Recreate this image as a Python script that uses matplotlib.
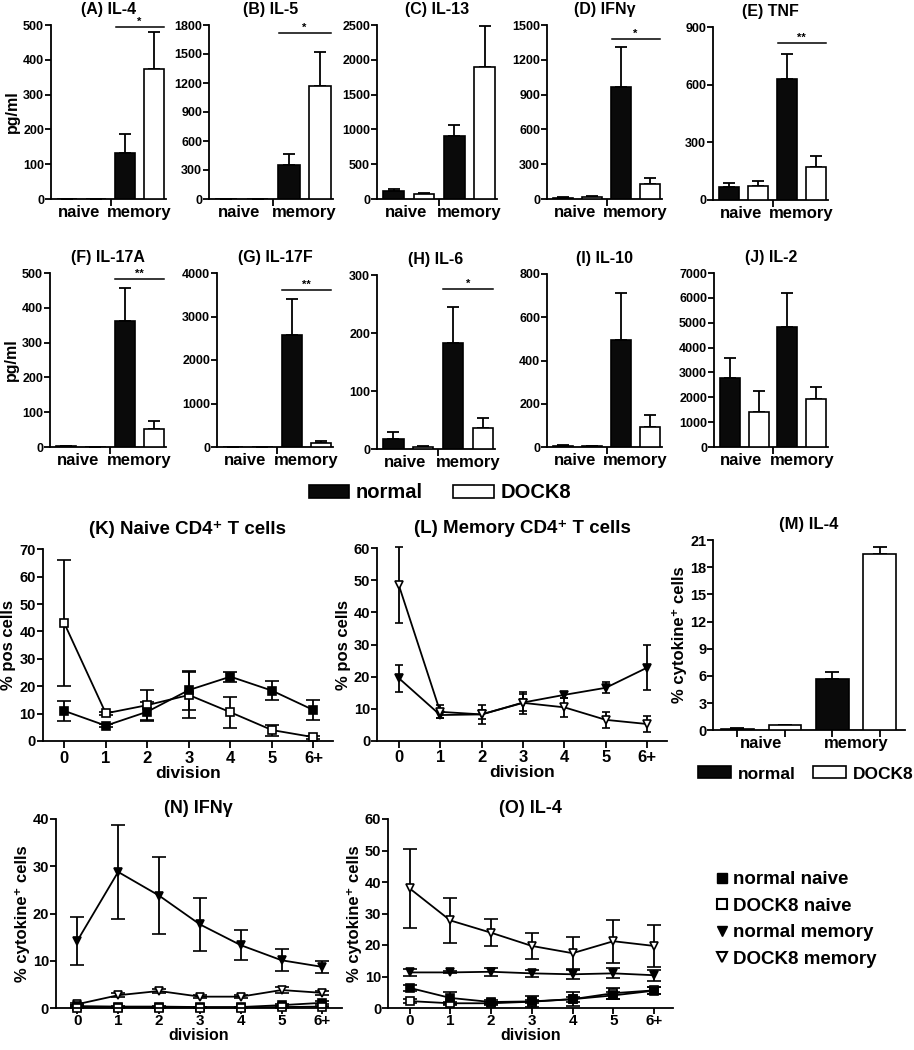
import numpy as np
import matplotlib
matplotlib.use('Agg')
import matplotlib.pyplot as plt
from matplotlib.patches import Patch
from matplotlib.lines import Line2D

plt.rcParams['font.family'] = ['Liberation Sans', 'DejaVu Sans']
plt.rcParams['font.weight'] = 'bold'
plt.rcParams['axes.labelweight'] = 'bold'
plt.rcParams['axes.titleweight'] = 'bold'

# ---- (A)-(J) cytokine secretion, pg/ml ----
bar_titles = ['(A) IL-4', '(B) IL-5', '(C) IL-13', '(D) IFNγ', '(E) TNF',
              '(F) IL-17A', '(G) IL-17F', '(H) IL-6', '(I) IL-10', '(J) IL-2']
bar_ymax = [500, 1800, 2500, 1500, 900, 500, 4000, 300, 800, 7000]
bar_ystep = [100, 300, 500, 300, 300, 100, 1000, 100, 200, 1000]
normal_naive = [0, 0, 110, 12, 66, 3, 0, 18, 6, 2780]
normal_naive_sem = [0, 0, 40, 4, 22, 1, 0, 12, 2, 820]
dock8_naive = [0, 0, 65, 18, 71, 0, 0, 4, 3, 1390]
dock8_naive_sem = [0, 0, 22, 6, 28, 0, 0, 1, 1, 880]
normal_memory = [133, 355, 905, 968, 629, 363, 2566, 183, 497, 4836]
normal_memory_sem = [54, 110, 152, 342, 132, 95, 825, 61, 214, 1344]
dock8_memory = [374, 1169, 1901, 132, 172, 51, 85, 36, 93, 1924]
dock8_memory_sem = [105, 355, 590, 52, 58, 24, 54, 18, 54, 481]
sig_label = ['*', '*', '', '*', '**', '**', '**', '*', '', '']
sig_level = [495, 1720, 0, 1379, 818, 483, 3607, 276, 0, 0]

# ---- (K),(L) % pos cells per division ----
divisions = ['0', '1', '2', '3', '4', '5', '6+']
k_normal = [11.0, 5.6, 10.7, 18.6, 23.5, 18.4, 11.3]
k_normal_sem = [3.6, 0.6, 3.4, 7.1, 1.8, 3.5, 3.6]
k_dock8 = [43.0, 10.1, 13.1, 16.8, 10.5, 4.0, 1.4]
k_dock8_sem = [23.0, 0.6, 5.6, 8.5, 5.7, 2.0, 0.6]
l_normal = [19.5, 8.0, 8.2, 11.9, 14.3, 16.5, 22.8]
l_normal_sem = [4.2, 1.0, 1.5, 2.6, 1.0, 1.7, 7.0]
l_dock8 = [48.5, 9.0, 8.2, 11.8, 10.4, 6.5, 5.2]
l_dock8_sem = [11.8, 2.0, 3.0, 3.4, 3.0, 2.6, 2.4]

# ---- (M) IL-4 % cytokine+ cells ----
m_normal = [0.15, 5.66]
m_normal_sem = [0.05, 0.75]
m_dock8 = [0.55, 19.46]
m_dock8_sem = [0.03, 0.8]

# ---- (N) IFNg, (O) IL-4 per division ----
n_normal_naive = [0.4, 0.3, 0.3, 0.2, 0.2, 0.6, 1.1]
n_normal_naive_sem = [0.2, 0.1, 0.1, 0.1, 0.1, 0.2, 0.3]
n_dock8_naive = [0.1, 0.1, 0.1, 0.1, 0.1, 0.2, 0.3]
n_dock8_naive_sem = [0.05, 0.05, 0.05, 0.05, 0.05, 0.1, 0.1]
n_normal_memory = [14.2, 28.8, 23.8, 17.7, 13.3, 10.1, 8.7]
n_normal_memory_sem = [5.0, 10.0, 8.2, 5.6, 3.2, 2.3, 1.2]
n_dock8_memory = [0.8, 2.7, 3.6, 2.4, 2.4, 3.8, 3.2]
n_dock8_memory_sem = [0.2, 0.4, 0.4, 0.3, 0.3, 0.6, 0.4]

o_normal_naive = [6.4, 3.2, 1.9, 2.1, 2.8, 4.0, 5.5]
o_normal_naive_sem = [1.0, 1.8, 0.7, 1.8, 2.3, 1.0, 1.2]
o_dock8_naive = [2.2, 1.5, 1.5, 2.0, 2.8, 4.7, 5.6]
o_dock8_naive_sem = [0.5, 0.5, 0.4, 0.5, 0.8, 1.8, 1.0]
o_normal_memory = [11.3, 11.3, 11.5, 11.0, 10.7, 11.0, 10.4]
o_normal_memory_sem = [1.2, 0.3, 1.3, 1.0, 1.5, 1.6, 1.8]
o_dock8_memory = [38.0, 27.8, 23.9, 19.7, 17.4, 21.2, 19.7]
o_dock8_memory_sem = [12.5, 7.1, 4.2, 4.0, 5.1, 6.8, 6.7]

W, H = 914, 1050
LW = 1.3


def box(l, t, r, b):
    return [l / W, 1 - b / H, (r - l) / W, (b - t) / H]


def clean(ax):
    for s in ['top', 'right']:
        ax.spines[s].set_visible(False)
    for s in ['left', 'bottom']:
        ax.spines[s].set_linewidth(LW)
    ax.tick_params(width=LW, length=4, direction='out')


fig = plt.figure(figsize=(W / 100, H / 100), dpi=100)

# bar panels
bar_boxes = [(51, 25, 166, 199), (209, 25, 333, 199), (377, 25, 497, 199),
             (547, 25, 662, 199), (713, 27, 828, 200),
             (50, 273, 166, 447), (217, 273, 333, 447), (377, 275, 495, 449),
             (547, 274, 662, 447), (714, 273, 828, 447)]
for i in range(10):
    ax = fig.add_axes(box(*bar_boxes[i]))
    clean(ax)
    x = np.arange(4)
    means = [normal_naive[i], dock8_naive[i], normal_memory[i], dock8_memory[i]]
    sems = [normal_naive_sem[i], dock8_naive_sem[i], normal_memory_sem[i], dock8_memory_sem[i]]
    ax.errorbar(x, means, yerr=[np.zeros(4), sems], fmt='none', ecolor='black',
                elinewidth=LW, capsize=4, capthick=LW, zorder=2)
    ax.bar(x, means, width=0.69, color=['#0a0a0a', 'white', '#0a0a0a', 'white'],
           edgecolor='black', linewidth=1.2, zorder=3)
    ax.set_ylim(0, bar_ymax[i])
    ax.set_yticks(np.arange(0, bar_ymax[i] + 1, bar_ystep[i]))
    ax.tick_params(axis='y', labelsize=9, pad=1)
    ax.set_xlim(-0.55, 3.41)
    ax.set_xticks([1.5])
    ax.set_xticklabels([''])
    ax.tick_params(axis='x', which='major', length=5)
    ax.set_xticks([0.4, 2.5], minor=True)
    ax.set_xticklabels(['naive', 'memory'], minor=True, fontsize=12)
    ax.tick_params(axis='x', which='minor', length=0, pad=4)
    ax.set_title(bar_titles[i], fontsize=11.5, pad=8)
    if sig_label[i]:
        ax.plot([1.68, 3.35], [sig_level[i]] * 2, color='black', lw=1.1, clip_on=False)
        ax.text(2.5, sig_level[i], sig_label[i], ha='center', va='bottom', fontsize=8)
    if i in (0, 5):
        ax.set_ylabel('pg/ml', fontsize=11.5, labelpad=2)

fig.legend(handles=[Patch(facecolor='#0a0a0a', edgecolor='black', lw=1.2, label='normal'),
                    Patch(facecolor='white', edgecolor='black', lw=1.2, label='DOCK8')],
           loc='center', bbox_to_anchor=(440 / W, 1 - 493 / H), ncol=2, frameon=False,
           fontsize=14.5, handlelength=2.0, handleheight=0.65, handletextpad=0.35,
           columnspacing=1.5, borderpad=0)

xd = np.arange(len(divisions))


def division_axes(ax, ymax, ystep, ticksize, ticklen, tickpad, labelsize):
    clean(ax)
    ax.set_xlim(-0.52, 6.47)
    ax.set_ylim(0, ymax)
    ax.set_yticks(np.arange(0, ymax + 1, ystep))
    ax.set_xticks(xd)
    ax.set_xticklabels(divisions, fontsize=ticksize)
    ax.tick_params(axis='x', length=ticklen, pad=tickpad)
    ax.tick_params(axis='y', labelsize=10.5, pad=1)
    ax.set_xlabel('division', fontsize=labelsize, labelpad=0)


def series(ax, y, e, marker, filled, cap):
    ax.errorbar(xd, y, yerr=e, color='black', lw=LW, marker=marker, ms=6,
                mfc='black' if filled else 'white', mec='black', mew=1.2,
                elinewidth=LW, capsize=cap, capthick=LW, clip_on=False)


# (K)
ax = fig.add_axes(box(42.7, 549.3, 333, 741))
division_axes(ax, 70, 10, 12, 5, 2, 12.5)
series(ax, k_dock8, k_dock8_sem, 's', False, 5)
series(ax, k_normal, k_normal_sem, 's', True, 5)
ax.set_title('(K) Naive CD4⁺ T cells', fontsize=13.5, pad=11)
ax.set_ylabel('% pos cells', fontsize=12, labelpad=2)

# (L)
ax = fig.add_axes(box(377.3, 548.3, 666.7, 740.7))
division_axes(ax, 60, 10, 12, 5, 2, 12.5)
series(ax, l_normal, l_normal_sem, 'v', True, 3)
series(ax, l_dock8, l_dock8_sem, 'v', False, 3)
ax.set_title('(L) Memory CD4⁺ T cells', fontsize=13.5, pad=11)
ax.set_ylabel('% pos cells', fontsize=12, labelpad=2)

# (M)
ax = fig.add_axes(box(713.3, 540, 905, 730.3))
clean(ax)
xm = np.array([0, 2])
ax.errorbar(xm, m_normal, yerr=[np.zeros(2), m_normal_sem], fmt='none', ecolor='black',
            elinewidth=LW, capsize=5, capthick=LW, zorder=2)
ax.errorbar(xm + 1, m_dock8, yerr=[np.zeros(2), m_dock8_sem], fmt='none', ecolor='black',
            elinewidth=LW, capsize=5, capthick=LW, zorder=2)
ax.bar(xm, m_normal, width=0.69, color='#0a0a0a', edgecolor='black', lw=1.2, zorder=3)
ax.bar(xm + 1, m_dock8, width=0.69, color='white', edgecolor='black', lw=1.2, zorder=3)
ax.set_ylim(0, 21)
ax.set_yticks(np.arange(0, 22, 3))
ax.tick_params(axis='y', labelsize=10.5, pad=1)
ax.set_xlim(-0.51, 3.53)
ax.set_xticks([0, 1, 2, 3])
ax.set_xticklabels(['', '', '', ''])
ax.tick_params(axis='x', which='major', length=5)
ax.set_xticks([0.5, 2.5], minor=True)
ax.set_xticklabels(['naive', 'memory'], minor=True, fontsize=12)
ax.tick_params(axis='x', which='minor', length=0, pad=4)
ax.set_title('(M) IL-4', fontsize=12, pad=8)
ax.set_ylabel('% cytokine⁺ cells', fontsize=12, labelpad=2)
fig.legend(handles=[Patch(facecolor='#0a0a0a', edgecolor='black', lw=1.2, label='normal'),
                    Patch(facecolor='white', edgecolor='black', lw=1.2, label='DOCK8')],
           loc='center', bbox_to_anchor=(806 / W, 1 - 774 / H), ncol=2, frameon=False,
           fontsize=12.5, handlelength=1.9, handleheight=0.69, handletextpad=0.4,
           columnspacing=1.0, borderpad=0)

# (N)
ax = fig.add_axes(box(56, 819, 341.7, 1008))
division_axes(ax, 40, 10, 11, 4, 0.5, 11.5)
series(ax, n_dock8_memory, n_dock8_memory_sem, 'v', False, 5)
series(ax, n_normal_memory, n_normal_memory_sem, 'v', True, 5)
series(ax, n_normal_naive, n_normal_naive_sem, 's', True, 5)
series(ax, n_dock8_naive, n_dock8_naive_sem, 's', False, 5)
ax.set_title('(N) IFNγ', fontsize=13, pad=4)
ax.set_ylabel('% cytokine⁺ cells', fontsize=12, labelpad=2)

# (O)
ax = fig.add_axes(box(388.3, 819, 673.3, 1008))
division_axes(ax, 60, 10, 11, 4, 0.5, 11.5)
series(ax, o_dock8_memory, o_dock8_memory_sem, 'v', False, 5)
series(ax, o_normal_memory, o_normal_memory_sem, 'v', True, 5)
series(ax, o_dock8_naive, o_dock8_naive_sem, 's', False, 5)
series(ax, o_normal_naive, o_normal_naive_sem, 's', True, 5)
ax.set_title('(O) IL-4', fontsize=13, pad=4)
ax.set_ylabel('% cytokine⁺ cells', fontsize=12, labelpad=2)

legend_handles = [
    Line2D([], [], ls='none', marker='s', ms=7, mfc='black', mec='black', label='normal naive'),
    Line2D([], [], ls='none', marker='s', ms=7, mfc='white', mec='black', mew=1.5, label='DOCK8 naive'),
    Line2D([], [], ls='none', marker='v', ms=7, mfc='black', mec='black', label='normal memory'),
    Line2D([], [], ls='none', marker='v', ms=7, mfc='white', mec='black', mew=1.5, label='DOCK8 memory'),
]
fig.legend(handles=legend_handles, loc='upper left', bbox_to_anchor=(716 / W, 1 - 871 / H),
           frameon=False, fontsize=13.5, handlelength=0.6, handletextpad=0.33,
           labelspacing=0.5, borderpad=0, borderaxespad=0)

fig.savefig('out.png', dpi=100)
